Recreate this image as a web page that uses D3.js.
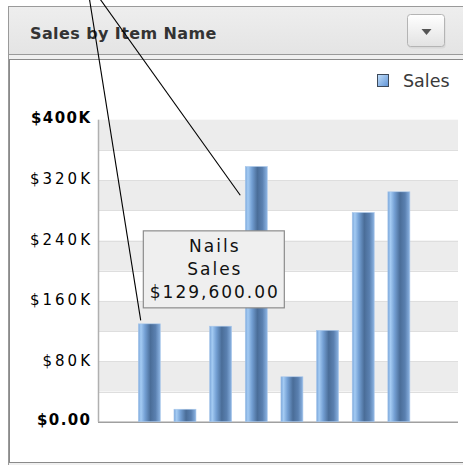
<!DOCTYPE html>
<html>
<head>
<meta charset="utf-8">
<script src="https://cdn.jsdelivr.net/npm/d3@7"></script>
<style>
  html, body { margin: 0; padding: 0; background: #fff; }
  svg { display: block; }
  text { font-family: "DejaVu Sans", Verdana, sans-serif; }
</style>
</head>
<body>
<script>
// Sales per item
const categories = ["Nails", "Washers", "Screws", "Bolts", "Hinges", "Brackets", "Anchors", "Rivets"];
const sales = [129600, 16500, 126500, 338000, 59500, 121000, 277000, 304500];
const seriesName = "Sales";
const tickValues = [0, 80000, 160000, 240000, 320000, 400000];
const bandStep = 40000;
const title = "Sales by Item Name";
const highlighted = "Nails";

const W = 463, H = 465;
const svg = d3.select("body").append("svg").attr("width", W).attr("height", H);
const defs = svg.append("defs");

// bar shading: cylindrical look, left to right
const barGrad = defs.append("linearGradient").attr("id", "barGrad")
  .attr("x1", "0%").attr("x2", "100%").attr("y1", "0%").attr("y2", "0%");
[["0%", "#7aa6da"], ["12%", "#a4cbf3"], ["30%", "#74a0d4"], ["55%", "#4a6d98"],
 ["78%", "#5a80b0"], ["100%", "#8cb4e3"]].forEach(([o, c]) =>
  barGrad.append("stop").attr("offset", o).attr("stop-color", c));

const swatchGrad = defs.append("linearGradient").attr("id", "swatchGrad")
  .attr("x1", "0%").attr("x2", "100%").attr("y1", "0%").attr("y2", "100%");
[["0%", "#c4e0fb"], ["100%", "#5f93d6"]].forEach(([o, c]) =>
  swatchGrad.append("stop").attr("offset", o).attr("stop-color", c));

const headGrad = defs.append("linearGradient").attr("id", "headGrad")
  .attr("x1", "0").attr("x2", "0").attr("y1", "0").attr("y2", "1");
[["0%", "#eeeeee"], ["100%", "#e4e4e4"]].forEach(([o, c]) =>
  headGrad.append("stop").attr("offset", o).attr("stop-color", c));

const btnGrad = defs.append("linearGradient").attr("id", "btnGrad")
  .attr("x1", "0").attr("x2", "0").attr("y1", "0").attr("y2", "1");
[["0%", "#ffffff"], ["100%", "#e2e2e2"]].forEach(([o, c]) =>
  btnGrad.append("stop").attr("offset", o).attr("stop-color", c));

// ---- panel frame ----
svg.append("rect").attr("x", 8.5).attr("y", 6.5).attr("width", 470).attr("height", 470)
  .attr("fill", "#f0f0f0").attr("stroke", "#9a9a9a");
svg.append("rect").attr("x", 8.5).attr("y", 6.5).attr("width", 470).attr("height", 48)
  .attr("fill", "url(#headGrad)").attr("stroke", "#9a9a9a");
svg.append("rect").attr("x", 9.5).attr("y", 59.5).attr("width", 470).attr("height", 403)
  .attr("fill", "#ffffff").attr("stroke", "#8a8a8a");

svg.append("text").attr("x", 30).attr("y", 39)
  .attr("font-size", 16).attr("font-weight", "bold").attr("letter-spacing", 0.4)
  .attr("fill", "#333").text(title);

// dropdown button
svg.append("rect").attr("x", 408.5).attr("y", 16.5).attr("width", 37).attr("height", 32)
  .attr("rx", 3).attr("fill", "#d0d0d0").attr("opacity", 0.6);
svg.append("rect").attr("x", 407.5).attr("y", 14.5).attr("width", 37).attr("height", 32)
  .attr("rx", 3).attr("fill", "url(#btnGrad)").attr("stroke", "#b4b4b4");
svg.append("path").attr("d", d3.line()([[421.5, 29], [431.5, 29], [426.5, 35]]) + "Z")
  .attr("fill", "#555");

// ---- chart ----
const plot = { left: 98, right: 458, top: 119.7, bottom: 421.7 };
const y = d3.scaleLinear().domain([0, 400000]).range([plot.bottom, plot.top]);
const x = d3.scaleBand().domain(categories).range([120.5, 427.7])
  .paddingInner(0.383).paddingOuter(0.5);

// alternating bands
const bands = d3.range(0, 400000, bandStep);
svg.append("g").selectAll("rect").data(bands.filter((v, i) => i % 2 === 1)).join("rect")
  .attr("x", plot.left).attr("width", plot.right - plot.left)
  .attr("y", d => y(d + bandStep)).attr("height", d => y(d) - y(d + bandStep))
  .attr("fill", "#ececec");
svg.append("g").selectAll("line").data(bands.slice(1)).join("line")
  .attr("x1", plot.left).attr("x2", plot.right)
  .attr("y1", d => Math.round(y(d)) + 0.5).attr("y2", d => Math.round(y(d)) + 0.5)
  .attr("stroke", "#dedede");

// y axis
const fmt = v => v === 0 ? "$0.00" : "$" + (v / 1000) + "K";
const yAxis = d3.axisLeft(y).tickValues(tickValues).tickFormat(fmt).tickSize(0).tickPadding(0);
const gy = svg.append("g").attr("transform", `translate(${plot.left - 8},0)`).call(yAxis);
gy.select(".domain").remove();
gy.selectAll("text")
  .attr("font-family", "DejaVu Sans, sans-serif")
  .attr("fill", "#000")
  .attr("dy", "0.32em")
  .each(function(d) {
    const edge = d === tickValues[0] || d === tickValues[tickValues.length - 1];
    const ls = edge ? 1.4 : 3.0;
    d3.select(this)
      .attr("font-size", 15)
      .attr("font-weight", edge ? "bold" : "normal")
      .attr("letter-spacing", ls)
      .attr("x", ls)
      .attr("y", edge ? -2 : -1);
  });

// frame lines
svg.append("line").attr("x1", plot.left + 0.5).attr("x2", plot.left + 0.5)
  .attr("y1", plot.top).attr("y2", plot.bottom).attr("stroke", "#b0b0b0").attr("stroke-width", 1.5);
svg.append("line").attr("x1", plot.left).attr("x2", plot.right)
  .attr("y1", plot.bottom + 0.5).attr("y2", plot.bottom + 0.5).attr("stroke", "#a0a0a0").attr("stroke-width", 1.5);

// bars
const data = categories.map((c, i) => ({ name: c, value: sales[i] }));
svg.append("g").selectAll("rect").data(data).join("rect")
  .attr("x", d => x(d.name)).attr("width", x.bandwidth())
  .attr("y", d => y(d.value)).attr("height", d => y(0) - y(d.value))
  .attr("fill", "url(#barGrad)")
  .attr("stroke", "#a9c7ea").attr("stroke-width", 0.6);

// legend
svg.append("rect").attr("x", 377.5).attr("y", 74.5).attr("width", 11).attr("height", 12)
  .attr("fill", "url(#swatchGrad)").attr("stroke", "#3e4a5a");
svg.append("text").attr("x", 403).attr("y", 87).attr("font-size", 17.5)
  .attr("fill", "#3a3a3a").text(seriesName);

// tooltip for the highlighted item
const hi = data.find(d => d.name === highlighted);
const tipW = 141, tipH = 77;
const tipX = x(hi.name) + 4.5, tipY = y(hi.value) - 16.5 - tipH;
const tip = svg.append("g").attr("transform", `translate(${tipX},${tipY})`);
tip.append("rect").attr("x", 0.5).attr("y", 0.5).attr("width", tipW).attr("height", tipH)
  .attr("fill", "#efefef").attr("stroke", "#8c8c8c").attr("stroke-width", 1.2);
const money = d3.format(",.2f");
[hi.name, seriesName, "$" + money(hi.value)].forEach((t, i) => {
  tip.append("text").attr("x", tipW / 2 + 1.5).attr("y", 22 + i * 23)
    .attr("text-anchor", "middle").attr("font-size", 17).attr("letter-spacing", 2)
    .attr("fill", "#111").text(t);
});

// callout lines
const callouts = [
  { from: [89.3, -2], to: [x(hi.name) + 2.4, y(hi.value) - 3.5] },
  { from: [99.3, -2], to: [x(categories[3]) - 5, y(300000)] }
];
svg.append("g").selectAll("line").data(callouts).join("line")
  .attr("x1", d => d.from[0]).attr("y1", d => d.from[1])
  .attr("x2", d => d.to[0]).attr("y2", d => d.to[1])
  .attr("stroke", "#000").attr("stroke-width", 1.1);
</script>
</body>
</html>
